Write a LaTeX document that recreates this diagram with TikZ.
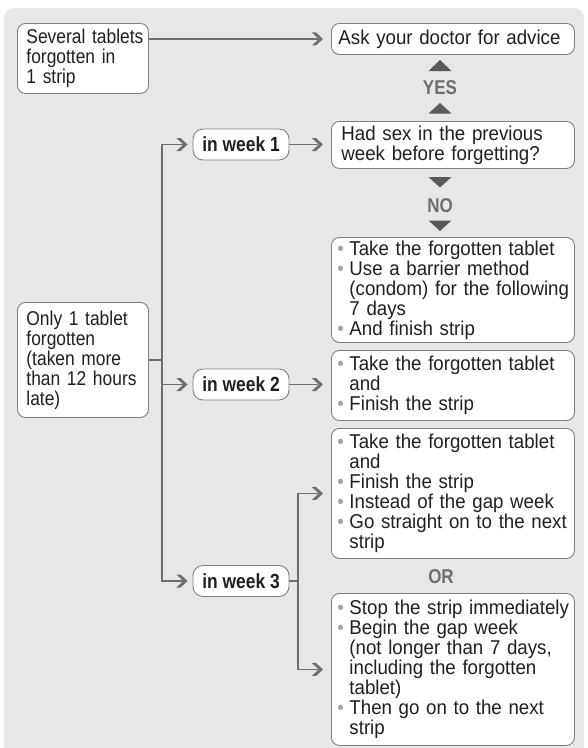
\documentclass[tikz,border=0pt]{standalone}
\usepackage{fontspec}
\setmainfont{Liberation Sans}[FakeStretch=0.935]
\newfontfamily\narrowfont{Liberation Sans}[FakeStretch=0.87]
\newfontfamily\boldcond{Liberation Sans}[FakeStretch=0.85]
\definecolor{bg}{HTML}{E6E7E8}
\definecolor{ln}{HTML}{6D6E71}
\definecolor{tri}{HTML}{58595B}
\definecolor{bord}{HTML}{808080}
\definecolor{txt}{HTML}{231F20}
\definecolor{bul}{HTML}{A3A4A6}
\newcommand\bu{\makebox[12pt][l]{\textcolor{bul}{\textbullet}}}
\newcommand\ind{\hspace*{12pt}}
\begin{document}
\begin{tikzpicture}[x=1pt,y=-1pt,
  box/.style={draw=bord, line width=0.9pt, fill=white, rounded corners=8pt,
    anchor=north west, inner ysep=0pt, align=left, text=txt,
    font=\fontsize{20}{20}\selectfont},
  rbox/.style={box, inner xsep=6pt, text width=231pt},
  lbox/.style={box, inner xsep=9pt, text width=113pt,
    font=\narrowfont\fontsize{20}{20}\selectfont},
  week/.style={draw=bord, line width=0.9pt, fill=white, rounded corners=10pt,
    minimum width=96pt, minimum height=31pt, inner sep=0pt, text=txt,
    font=\boldcond\bfseries\fontsize{20.5}{20}\selectfont},
  lab/.style={text=ln, inner sep=0pt, font=\boldcond\bfseries\fontsize{20}{20}\selectfont},
  conn/.style={draw=ln, line width=1.4pt},
  chev/.pic={\fill[ln] (0,0) -- (-7,-6.5) -- (-11.2,-6.5) -- (-4.2,0) -- (-11.2,6.5) -- (-7,6.5) -- cycle;},
  tri/.style={fill=tri}
]
\useasboundingbox (0,0) rectangle (588,748);
\fill[bg, rounded corners=10pt] (4,8) rectangle (584,775);

% left boxes
\node[lbox, minimum height=70pt] (sev) at (17,23)
  {\mbox{Several tablets}\\forgotten in\\1 strip};
\node[lbox, minimum height=115pt] (only) at (17,302)
  {Only 1 tablet\\forgotten\\(taken more\\\mbox{than 12 hours}\\late)};

% right boxes
\node[box, inner xsep=7pt, text width=229pt, minimum height=31pt] (ask) at (331,23)
  {Ask your doctor for advice};
\node[box, inner xsep=10pt, text width=223pt, minimum height=47pt] (sex) at (331,121)
  {Had sex in the previous\\week before forgetting?};
\node[rbox, minimum height=105pt] (b3) at (331,237)
  {\bu Take the forgotten tablet\\\bu Use a barrier method\\\ind\mbox{(condom) for the following}\\\ind 7 days\\\bu And finish strip};
\node[rbox, minimum height=70pt] (b4) at (331,350)
  {\bu Take the forgotten tablet\\\ind and\\\bu Finish the strip};
\node[rbox, minimum height=130pt] (b5) at (331,428)
  {\bu Take the forgotten tablet\\\ind and\\\bu Finish the strip\\\bu Instead of the gap week\\\bu Go straight on to the next\\\ind strip};
\node[rbox, minimum height=152pt] (b6) at (331,593)
  {\bu \mbox{Stop the strip immediately}\\\bu Begin the gap week\\\ind (not longer than 7 days,\\\ind including the forgotten\\\ind tablet)\\\bu Then go on to the next\\\ind strip};

% week labels
\node[week] (w1) at (241,144.5) {in week 1};
\node[week] (w2) at (241,384.5) {in week 2};
\node[week] (w3) at (241,581) {in week 3};

% YES / NO / OR
\node[lab] (yes) at (440,88) {YES};
\node[lab] (no) at (440,205.5) {NO};
\node[lab] (or) at (441,577) {OR};

% triangles
\fill[tri] (428.5,71) -- (440,60) -- (451.5,71) -- cycle;
\fill[tri] (428.5,113.5) -- (440,103) -- (451.5,113.5) -- cycle;
\fill[tri] (428.5,177) -- (440,187.5) -- (451.5,177) -- cycle;
\fill[tri] (428.5,220.5) -- (440,231) -- (451.5,220.5) -- cycle;

% spine coordinates
\coordinate (spx) at (162,0);
\coordinate (brx) at (298,0);

% arrow tip points
\coordinate (tA) at ([xshift=-8pt]ask.west);
\coordinate (tS) at ([xshift=-8pt]sex.west |- w1.east);
\coordinate (t4) at ([xshift=-8pt]b4.west |- w2.east);
\coordinate (t5) at ([xshift=-8pt]b5.west);
\coordinate (t6) at ([xshift=-8pt]b6.west);
\coordinate (tw1) at ([xshift=-5pt]w1.west);
\coordinate (tw2) at ([xshift=-5pt]w2.west);
\coordinate (tw3) at ([xshift=-5pt]w3.west);

% connectors
\draw[conn] (sev.east |- ask.west) -- ([xshift=-5pt]tA);
\draw[conn] (only.east) -- (only.east -| spx);
\draw[conn] ([xshift=-5pt]tw1) -- (w1.west -| spx) -- (w3.west -| spx) -- ([xshift=-5pt]tw3);
\draw[conn] (w2.west -| spx) -- ([xshift=-5pt]tw2);
\draw[conn] (w1.east) -- ([xshift=-5pt]tS);
\draw[conn] (w2.east) -- ([xshift=-5pt]t4);
\draw[conn] (w3.east) -- (w3.east -| brx);
\draw[conn] ([xshift=-5pt]t5) -- (b5.west -| brx) -- (b6.west -| brx) -- ([xshift=-5pt]t6);

% chevron arrowheads
\foreach \t in {tA,tS,t4,t5,t6,tw1,tw2,tw3} \pic at (\t) {chev};
\end{tikzpicture}
\end{document}
